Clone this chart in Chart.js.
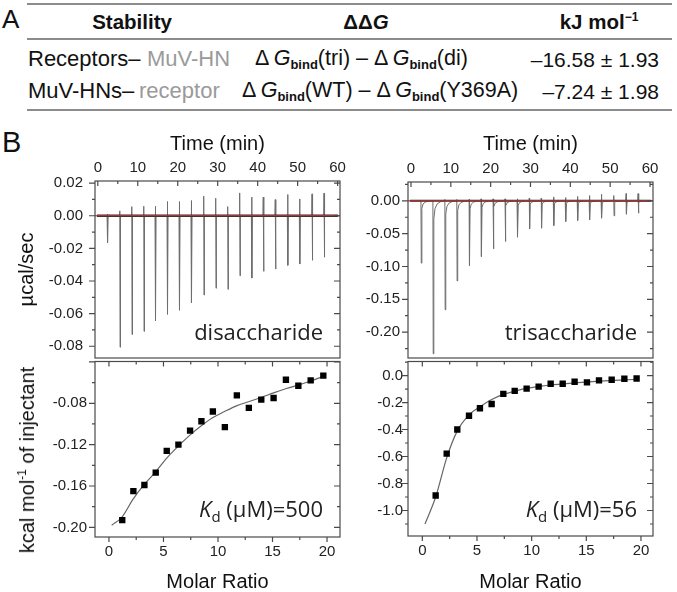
<!DOCTYPE html>
<html>
<head>
<meta charset="utf-8">
<script src="https://cdn.jsdelivr.net/npm/chart.js@4.4.1/dist/chart.umd.min.js"></script>
<style>
  html, body { margin:0; padding:0; background:#fff; overflow:hidden; }
  body { width:677px; height:592px; position:relative; font-family:"Liberation Sans", Arial, sans-serif; color:#111; }
  .abs { position:absolute; white-space:nowrap; line-height:1; }
  .c { transform:translate(-50%,-50%); }
  .m { transform:translateY(-50%); }
  .r { transform:translate(-100%,-50%); }
  .rot { transform:translate(-50%,-50%) rotate(-90deg); }
  .rule { position:absolute; left:27px; right:5px; height:2px; background:#8c8c8c; }
  .tbl { font-size:21px; }
  .lbl { font-size:22px; }
  .eq { font-size:21.5px; }
  .hd { font-size:20.5px; font-weight:bold; }
  .grey { color:#9a9a9a; }
  sub.b { font-size:13px; font-weight:bold; vertical-align:-4px; line-height:0; }
  .note { font-family:"Open Sans", sans-serif; font-size:22px; color:#222; }
  .note sub { font-size:15px; vertical-align:-5px; line-height:0; }
  .ytitle { font-size:20px; color:#111; }
  .ytitle sup { font-size:12px; line-height:0; vertical-align:8px; }
  canvas { position:absolute; }
</style>
</head>
<body>
<div class="abs" style="left:2px;top:6px;font-size:26px">A</div>
<div class="abs" style="left:2px;top:128px;font-size:29px">B</div>

<div class="rule" style="top:3px"></div>
<div class="rule" style="top:38px"></div>
<div class="rule" style="top:109px"></div>

<div class="abs hd c" style="left:132px;top:22px">Stability</div>
<div class="abs hd c" style="left:366px;top:22px">ΔΔ<i>G</i></div>
<div class="abs hd c" style="left:599px;top:22px">kJ mol<sup style="font-size:12px">−1</sup></div>

<div class="abs lbl m" style="left:28px;top:59px">Receptors–</div>
<div class="abs lbl m grey" style="left:147px;top:59px">MuV-HN</div>
<div class="abs eq m" style="left:255px;top:59px">Δ&thinsp;<i>G</i><sub class="b">bind</sub>(tri) – Δ&thinsp;<i>G</i><sub class="b">bind</sub>(di)</div>
<div class="abs tbl r" style="left:659px;top:59px">–16.58 ± 1.93</div>

<div class="abs lbl m" style="left:28px;top:91px">MuV-HNs–</div>
<div class="abs lbl m grey" style="left:139px;top:91px">receptor</div>
<div class="abs eq m" style="left:242px;top:91px">Δ&thinsp;<i>G</i><sub class="b">bind</sub>(WT) – Δ&thinsp;<i>G</i><sub class="b">bind</sub>(Y369A)</div>
<div class="abs tbl r" style="left:659px;top:91px">–7.24 ± 1.98</div>

<canvas id="lu" width="360" height="239" style="left:0;top:120px"></canvas>
<canvas id="ll" width="360" height="235" style="left:0;top:357px"></canvas>
<canvas id="ru" width="334" height="239" style="left:343px;top:120px"></canvas>
<canvas id="rl" width="334" height="235" style="left:343px;top:357px"></canvas>

<div class="abs ytitle rot" style="left:27px;top:460px">kcal mol<sup>-1</sup> of injectant</div>
<div class="abs note r" style="left:323px;top:331px">disaccharide</div>
<div class="abs note r" style="left:637px;top:331px">trisaccharide</div>
<div class="abs note r" style="left:323px;top:508px"><i>K</i><sub>d</sub> (μM)=500</div>
<div class="abs note r" style="left:637px;top:508px"><i>K</i><sub>d</sub> (μM)=56</div>

<script>
// raw thermograms: injection times (min), dip minimum and small upward glitch (ucal/sec)
const timeDi = [2.4, 5.5, 8.5, 11.5, 14.4, 17.4, 20.4, 23.4, 26.5, 29.5, 32.5, 35.5, 38.5, 41.4, 44.4, 47.5, 50.5, 53.6, 56.6];
const dipDi  = [-0.0165, -0.0806, -0.0728, -0.0709, -0.0645, -0.0604, -0.0579, -0.0533, -0.0486, -0.0444, -0.0451, -0.0368, -0.0382, -0.0341, -0.0327, -0.0304, -0.0296, -0.0273, -0.0254];
const upDi   = [0.001, 0.003, 0.0056, 0.0058, 0.0058, 0.0087, 0.0087, 0.0093, 0.012, 0.0107, 0.0056, 0.014, 0.0114, 0.0114, 0.0099, 0.013, 0.0103, 0.0134, 0.0138];

const timeTri = [2.5, 5.5, 8.5, 11.5, 14.6, 17.6, 20.6, 23.6, 26.7, 29.7, 32.7, 35.8, 38.8, 41.8, 44.8, 47.8, 50.9, 54.0, 57.0];
const dipTri  = [-0.0949, -0.233, -0.166, -0.122, -0.0985, -0.0848, -0.0731, -0.0619, -0.0553, -0.0426, -0.0416, -0.0376, -0.0315, -0.0299, -0.0289, -0.0264, -0.0228, -0.0203, -0.0188];
const upTri   = [0.001, 0.001, 0.002, 0.002, 0.002, 0.003, 0.003, 0.003, 0.003, 0.004, 0.004, 0.006, 0.005, 0.0066, 0.008, 0.010, 0.008, 0.011, 0.011];

// integrated heats (kcal/mol of injectant) vs molar ratio
const ratioDi = [1.22, 2.24, 3.25, 4.29, 5.30, 6.37, 7.44, 8.48, 9.53, 10.63, 11.73, 12.83, 13.97, 15.10, 16.23, 17.37, 18.50, 19.66];
const heatDi  = [-0.193, -0.165, -0.159, -0.147, -0.126, -0.120, -0.1065, -0.0974, -0.0879, -0.103, -0.0724, -0.0844, -0.0765, -0.0749, -0.0573, -0.063, -0.0579, -0.0532];
const fitRatioDi = [0.25, 1.2, 2.2, 3.2, 4.3, 5.3, 6.4, 7.4, 8.5, 9.5, 10.6, 11.7, 12.8, 14.0, 15.1, 16.2, 17.4, 18.5, 19.8];
const fitHeatDi  = [-0.198, -0.190, -0.173, -0.159, -0.146, -0.133, -0.121, -0.111, -0.1015, -0.094, -0.088, -0.0825, -0.0785, -0.0742, -0.070, -0.066, -0.0622, -0.0585, -0.0535];

const ratioTri = [1.22, 2.23, 3.20, 4.27, 5.27, 6.34, 7.41, 8.45, 9.54, 10.64, 11.74, 12.84, 13.93, 15.06, 16.16, 17.32, 18.48, 19.60];
const heatTri  = [-0.889, -0.579, -0.400, -0.298, -0.242, -0.211, -0.136, -0.114, -0.097, -0.082, -0.061, -0.061, -0.046, -0.051, -0.036, -0.031, -0.024, -0.022];
const fitRatioTri = [0.24, 1.22, 2.23, 3.2, 4.3, 5.3, 6.3, 7.4, 8.5, 9.5, 10.6, 11.7, 13.9, 16.2, 18.5, 19.7];
const fitHeatTri  = [-1.10, -0.90, -0.61, -0.41, -0.29, -0.23, -0.18, -0.14, -0.115, -0.095, -0.082, -0.07, -0.055, -0.042, -0.032, -0.028];

const timeTicks = 10, ratioTicks = 5;

const FONT = '"Liberation Sans", Arial, sans-serif';
Chart.defaults.font.family = FONT;
Chart.defaults.color = '#222';

// recovery profile after each dip: [minutes after minimum, fraction of dip left]
const sharpShape = [[0.1, 0]];
const slowShape = [[0.15, 0.12], [0.45, 0.05], [1.0, 0.02], [1.8, 0.006], [2.5, 0]];

function thermogram(times, dips, ups, shape, t0, t1) {
  const pts = [{x: t0, y: 0}];
  times.forEach((t, i) => {
    pts.push({x: t - 0.08, y: 0}, {x: t, y: ups[i]}, {x: t + 0.08, y: dips[i]});
    shape.forEach(([dt, f]) => pts.push({x: t + 0.08 + dt, y: dips[i] * f}));
  });
  pts.push({x: t1, y: 0});
  return pts;
}
const xy = (xs, ys) => xs.map((x, i) => ({x, y: ys[i]}));
const fmt = (d) => (v) => (Math.abs(v) < 1e-9 ? 0 : v).toFixed(d);

const framePlugin = {
  id: 'frame',
  afterDraw(chart, _a, o) {
    const {ctx, chartArea: a, scales: {x, y}} = chart;
    const marks = (s, step) => {
      const out = [], half = step / 2;
      for (let k = Math.ceil(s.min / half - 1e-9); k * half <= s.max + 1e-9; k++)
        out.push({p: s.getPixelForValue(k * half), major: k % 2 === 0});
      return out;
    };
    ctx.save();
    ctx.strokeStyle = '#4a4a4a';
    ctx.lineWidth = 1.2;
    ctx.strokeRect(a.left, a.top, a.right - a.left, a.bottom - a.top);
    ctx.beginPath();
    marks(x, o.xStep).forEach(({p, major}) => {
      const L = major ? 5 : 3;
      if (o.top) { ctx.moveTo(p, a.top); ctx.lineTo(p, a.top + L); }
      if (o.bottom) { ctx.moveTo(p, a.bottom); ctx.lineTo(p, a.bottom + L); }
    });
    marks(y, o.yStep).forEach(({p, major}) => {
      const L = major ? 6 : 3;
      ctx.moveTo(a.left, p); ctx.lineTo(a.left - L, p);
      ctx.moveTo(a.right, p); ctx.lineTo(a.right - L, p);
    });
    ctx.stroke();
    ctx.restore();
  }
};

function makeChart(id, datasets, o) {
  return new Chart(document.getElementById(id), {
    type: 'line',
    data: { datasets },
    options: {
      responsive: false, animation: false, devicePixelRatio: 1,
      layout: { padding: o.pad },
      plugins: { legend: { display: false }, tooltip: { enabled: false }, frame: o.frame },
      elements: { point: { radius: 0 } },
      scales: {
        x: {
          type: 'linear', position: o.xPos, min: o.xMin, max: o.xMax,
          grid: { display: false, drawTicks: false, tickLength: 0 }, border: { display: false },
          ticks: { stepSize: o.xStep, includeBounds: false, padding: o.xPad, maxRotation: 0, autoSkip: false,
                   font: { size: 15 }, color: '#222', callback: (v) => String(v) },
          title: { display: true, text: o.xTitle, color: '#111', font: { size: 20, lineHeight: 1 }, padding: o.xTitlePad },
          afterFit: (s) => { s.height = o.xH; s.paddingLeft = 0; s.paddingRight = 0; }
        },
        y: {
          type: 'linear', min: o.yMin, max: o.yMax,
          grid: { display: false, drawTicks: false, tickLength: 0 }, border: { display: false },
          ticks: { stepSize: o.yStep, includeBounds: false, padding: o.yPad, font: { size: 15 }, color: '#222',
                   callback: fmt(o.dec) },
          title: { display: !!o.yTitle, text: o.yTitle, color: '#111', font: { size: 20, lineHeight: 1.2 }, padding: { top: 15 } },
          afterBuildTicks: (s) => { s.ticks = s.ticks.filter((t) => t.value <= o.yTickMax); },
          afterFit: (s) => { s.width = o.yW; s.paddingTop = 0; s.paddingBottom = 0; }
        }
      }
    },
    plugins: [framePlugin]
  });
}

function rawSets(trace, t0, t1, band) {
  return [
    { data: [{x: t0, y: 0}, {x: t1, y: 0}], borderColor: 'rgba(214,60,60,0.95)', borderWidth: 1 },
    { data: [{x: t0 + 0.5, y: 0}, {x: t1 - 0.5, y: 0}], borderColor: '#2a2a2a', borderWidth: band },
    { data: trace, borderColor: '#6e6e6e', borderWidth: 1 }
  ];
}
function heatSets(pts, fit) {
  return [
    { data: pts, showLine: false, pointStyle: 'rect', pointRadius: 4.5, backgroundColor: '#000', borderColor: '#000', borderWidth: 0 },
    { data: fit, borderColor: '#666', borderWidth: 1.2, cubicInterpolationMode: 'monotone' }
  ];
}

makeChart('lu', rawSets(thermogram(timeDi, dipDi, upDi, sharpShape, -0.7, 60.6), -0.7, 60.6, 2.5), {
  pad: { left: 0, right: 20, top: 0, bottom: 1 }, xPos: 'top', xMin: -0.7, xMax: 60.6, xStep: timeTicks,
  xPad: 4, xH: 61, xTitle: 'Time (min)', xTitlePad: { top: 14 },
  yMin: -0.0872, yMax: 0.0213, yStep: 0.02, yPad: 12, yW: 95, dec: 2, yTitle: 'µcal/sec', yTickMax: 1,
  frame: { xStep: timeTicks, yStep: 0.02, top: true, bottom: false }
});
makeChart('ru', rawSets(thermogram(timeTri, dipTri, upTri, slowShape, -0.75, 60.75), -0.75, 60.75, 2), {
  pad: { left: 0, right: 24, top: 0, bottom: 1 }, xPos: 'top', xMin: -0.75, xMax: 60.75, xStep: timeTicks,
  xPad: 4, xH: 62, xTitle: 'Time (min)', xTitlePad: { top: 14 },
  yMin: -0.2394, yMax: 0.0287, yStep: 0.05, yPad: 8, yW: 65, dec: 2, yTitle: '', yTickMax: 1,
  frame: { xStep: timeTicks, yStep: 0.05, top: true, bottom: false }
});
makeChart('ll', heatSets(xy(ratioDi, heatDi), xy(fitRatioDi, fitHeatDi)), {
  pad: { left: 0, right: 20, top: 1, bottom: 0 }, xPos: 'bottom', xMin: -1.28, xMax: 21.19, xStep: ratioTicks,
  xPad: 6, xH: 55, xTitle: 'Molar Ratio', xTitlePad: { bottom: 0 },
  yMin: -0.2093, yMax: -0.0396, yStep: 0.04, yPad: 8, yW: 95, dec: 2, yTitle: '', yTickMax: -0.07,
  frame: { xStep: ratioTicks, yStep: 0.04, top: true, bottom: true }
});
makeChart('rl', heatSets(xy(ratioTri, heatTri), xy(fitRatioTri, fitHeatTri)), {
  pad: { left: 0, right: 24, top: 1, bottom: 0 }, xPos: 'bottom', xMin: -1.31, xMax: 21.1, xStep: ratioTicks,
  xPad: 6, xH: 56, xTitle: 'Molar Ratio', xTitlePad: { bottom: 0 },
  yMin: -1.189, yMax: 0.104, yStep: 0.2, yPad: 5, yW: 65, dec: 1, yTitle: '', yTickMax: 1,
  frame: { xStep: ratioTicks, yStep: 0.2, top: true, bottom: true }
});
</script>
</body>
</html>
